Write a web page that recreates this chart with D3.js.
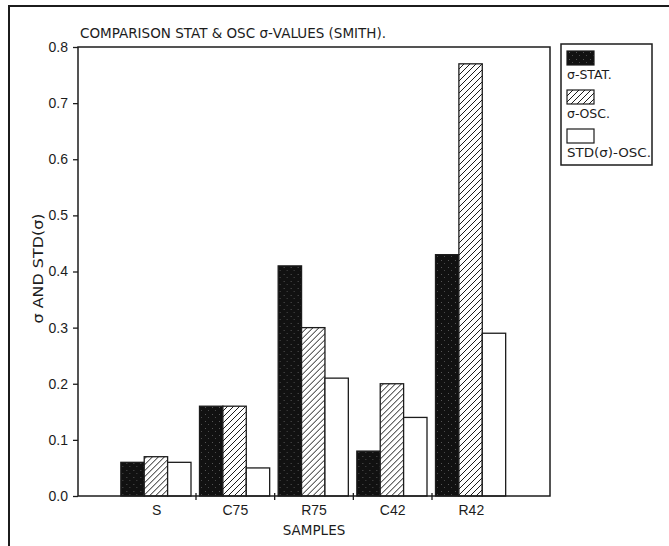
<!DOCTYPE html>
<html>
<head>
<meta charset="utf-8">
<script src="https://cdn.jsdelivr.net/npm/d3@7"></script>
<style>
  html, body { margin: 0; padding: 0; background: #fff; }
  svg { display: block; font-family: "DejaVu Sans", sans-serif; }
</style>
</head>
<body>
<svg width="669" height="546"></svg>
<script>
const width = 669;
const height = 546;

const samples = ["S", "C75", "R75", "C42", "R42"];
const seriesNames = ["σ-STAT.", "σ-OSC.", "STD(σ)-OSC."];
const sigmaStat = [0.06, 0.16, 0.41, 0.08, 0.43];
const sigmaOsc = [0.07, 0.16, 0.30, 0.20, 0.77];
const stdOsc = [0.06, 0.05, 0.21, 0.14, 0.29];
const yTicks = [0, 0.1, 0.2, 0.3, 0.4, 0.5, 0.6, 0.7, 0.8];

const ink = "#1c1c1c";
const margin = { top: 47, right: 119, bottom: 50, left: 78 };

const svg = d3.select("svg")
  .attr("viewBox", [0, 0, width, height]);

// patterns: stippled black and diagonal hatch
const defs = svg.append("defs");
const stip = defs.append("pattern")
  .attr("id", "stipple")
  .attr("patternUnits", "userSpaceOnUse")
  .attr("width", 7).attr("height", 7);
stip.append("rect").attr("width", 7).attr("height", 7).attr("fill", "#111");
stip.append("rect").attr("x", 2).attr("y", 1).attr("width", 1).attr("height", 1).attr("fill", "#555");
stip.append("rect").attr("x", 5).attr("y", 4).attr("width", 1).attr("height", 1).attr("fill", "#4a4a4a");

const hatch = defs.append("pattern")
  .attr("id", "hatch")
  .attr("patternUnits", "userSpaceOnUse")
  .attr("width", 6).attr("height", 6);
hatch.append("rect").attr("width", 6).attr("height", 6).attr("fill", "#fff");
hatch.append("path")
  .attr("d", "M-1,1 l2,-2 M0,6 l6,-6 M5,7 l2,-2")
  .attr("stroke", ink)
  .attr("stroke-width", 1);

const fills = ["url(#stipple)", "url(#hatch)", "#fff"];

// outer frame (runs off right and bottom)
svg.append("path")
  .attr("d", `M9,${height + 5} V6 H${width + 5}`)
  .attr("fill", "none")
  .attr("stroke", ink)
  .attr("stroke-width", 2);

const x0 = margin.left, x1 = width - margin.right;
const y0 = height - margin.bottom, y1 = margin.top;

const x = d3.scaleBand()
  .domain(samples)
  .range([x0, x1])
  .paddingInner(0)
  .paddingOuter(0.5);

const xSub = d3.scaleBand()
  .domain(d3.range(3))
  .range([3.5, x.bandwidth() - 5]);

const y = d3.scaleLinear()
  .domain([0, 0.8])
  .range([y0, y1]);

const rows = samples.map((s, i) => ({
  sample: s,
  values: [sigmaStat[i], sigmaOsc[i], stdOsc[i]]
}));

// bars
svg.append("g")
  .selectAll("g")
  .data(rows)
  .join("g")
  .attr("transform", d => `translate(${x(d.sample)},0)`)
  .selectAll("rect")
  .data(d => d.values.map((v, k) => ({ v, k })))
  .join("rect")
  .attr("x", d => xSub(d.k))
  .attr("width", xSub.bandwidth())
  .attr("y", d => y(d.v))
  .attr("height", d => y(0) - y(d.v))
  .attr("fill", d => fills[d.k])
  .attr("stroke", ink)
  .attr("stroke-width", 1.3);

// plot box
svg.append("rect")
  .attr("x", x0).attr("y", y1)
  .attr("width", x1 - x0).attr("height", y0 - y1)
  .attr("fill", "none")
  .attr("stroke", ink)
  .attr("stroke-width", 1.5);

// y axis
const yAxis = svg.append("g")
  .attr("transform", `translate(${x0},0)`)
  .call(d3.axisLeft(y).tickValues(yTicks).tickFormat(d3.format(".1f")).tickSize(5).tickPadding(5));
yAxis.select(".domain").remove();
yAxis.selectAll("line").attr("stroke", ink).attr("stroke-width", 1.3);
yAxis.selectAll("text")
  .attr("fill", ink)
  .style("font-size", "14px");

// x axis: category labels, ticks at band boundaries
const xAxis = svg.append("g")
  .attr("transform", `translate(0,${y0})`)
  .call(d3.axisBottom(x).tickSize(0).tickPadding(9));
xAxis.select(".domain").remove();
xAxis.selectAll("text")
  .attr("fill", ink)
  .style("font-size", "14px");

svg.append("g")
  .selectAll("line")
  .data(samples.slice(1))
  .join("line")
  .attr("x1", d => x(d)).attr("x2", d => x(d))
  .attr("y1", y0 - 3).attr("y2", y0 + 4)
  .attr("stroke", ink)
  .attr("stroke-width", 1.3);

// titles
svg.append("text")
  .attr("x", 80).attr("y", 38)
  .attr("fill", ink)
  .attr("textLength", 306)
  .attr("lengthAdjust", "spacingAndGlyphs")
  .style("font-size", "14px")
  .text("COMPARISON STAT & OSC σ-VALUES (SMITH).");

svg.append("text")
  .attr("x", (x0 + x1) / 2).attr("y", 535)
  .attr("text-anchor", "middle")
  .attr("fill", ink)
  .style("font-size", "13.5px")
  .text("SAMPLES");

svg.append("text")
  .attr("transform", `translate(43,${(y0 + y1) / 2 - 3}) rotate(-90)`)
  .attr("text-anchor", "middle")
  .attr("fill", ink)
  .attr("textLength", 110)
  .attr("lengthAdjust", "spacingAndGlyphs")
  .style("font-size", "14px")
  .text("σ AND STD(σ)");

// legend
const legend = svg.append("g").attr("transform", "translate(561,44)");
legend.append("rect")
  .attr("width", 91).attr("height", 121)
  .attr("fill", "#fff")
  .attr("stroke", ink)
  .attr("stroke-width", 1.5);

const item = legend.selectAll("g.item")
  .data(seriesNames)
  .join("g")
  .attr("class", "item")
  .attr("transform", (d, i) => `translate(6,${7 + i * 39})`);
item.append("rect")
  .attr("width", 27).attr("height", 14)
  .attr("fill", (d, i) => fills[i])
  .attr("stroke", ink)
  .attr("stroke-width", 1.2);
item.append("text")
  .attr("x", 0).attr("y", 28)
  .attr("fill", ink)
  .attr("textLength", d => d.length > 8 ? 84 : null)
  .attr("lengthAdjust", "spacingAndGlyphs")
  .style("font-size", "12.5px")
  .text(d => d);
</script>
</body>
</html>
